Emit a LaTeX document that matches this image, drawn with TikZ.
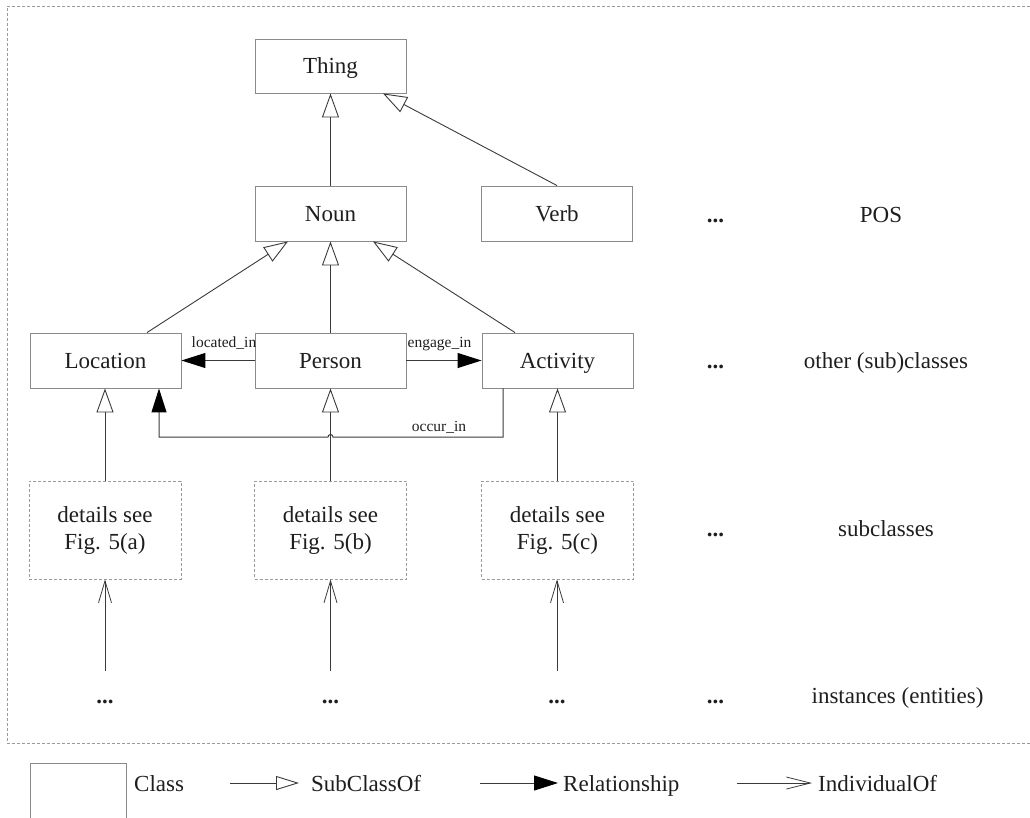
\documentclass[tikz,border=0pt]{standalone}
\usepackage{fontspec}
\setmainfont{Liberation Serif}
\usetikzlibrary{arrows.meta}

\definecolor{ink}{HTML}{1E1E1E}
\definecolor{edge}{HTML}{3A3A3A}
\definecolor{frame}{HTML}{8A8A8A}
\definecolor{dashgray}{HTML}{9A9A9A}

\tikzset{
  classbox/.style={draw=frame, line width=0.9pt, minimum width=151pt, minimum height=55pt,
    inner sep=0pt, text height=16pt, text depth=1pt,
    font=\fontsize{23}{27}\selectfont, text=ink},
  detailbox/.style={draw=dashgray, line width=0.8pt, dash pattern=on 3pt off 2pt,
    minimum width=152pt, minimum height=98pt, inner sep=0pt, align=center,
    font=\fontsize{23}{27}\selectfont, text=ink},
  subcls/.style={draw=edge, line width=0.9pt, -{Triangle[open, length=24pt, width=17pt]}},
  relation/.style={draw=edge, line width=1pt, -{Triangle[length=24pt, width=15pt, color=black]}},
  individual/.style={draw=edge, line width=0.9pt, -{Straight Barb[length=22pt, width=13pt, line width=0.8pt]}},
  rellabel/.style={font=\fontsize{15.5}{18}\selectfont, text=ink, anchor=base, inner sep=0pt},
  sidetext/.style={font=\fontsize{23}{27}\selectfont, text=ink, anchor=base, inner sep=0pt},
  ellip/.style={font=\fontsize{23}{27}\selectfont\bfseries, text=ink, anchor=base, inner sep=0pt},
}

\begin{document}
\begin{tikzpicture}[x=1pt, y=-1pt]
\useasboundingbox (0,0) rectangle (1030,817);

% outer dashed frame (open on the right)
\draw[dashgray, line width=0.8pt, dash pattern=on 3pt off 2pt]
  (1040,6) -- (7,6) -- (7,743) -- (1040,743);

% class hierarchy
\node[classbox, minimum height=54pt] (thing) at (330.5,66) {Thing};
\node[classbox] (noun) at (330.5,213.5) {Noun};
\node[classbox] (verb) at (557,213.5) {Verb};
\node[classbox] (location) at (105.5,360.5) {Location};
\node[classbox] (person) at (330.5,360.5) {Person};
\node[classbox] (activity) at (557.5,360.5) {Activity};

% subclass boxes
\node[detailbox] (suba) at (105,530) {details see\\Fig. 5(a)};
\node[detailbox] (subb) at (330.5,530) {details see\\Fig. 5(b)};
\node[detailbox] (subc) at (557.5,530) {details see\\Fig. 5(c)};

% instances
\node[ellip] (insta) at (105,703) {...};
\node[ellip] (instb) at (330.5,703) {...};
\node[ellip] (instc) at (557,703) {...};

% right column
\node[ellip] (dpos) at (715.5,222) {...};
\node[ellip] (dother) at (715.5,368) {...};
\node[ellip] (dsub) at (715.5,536) {...};
\node[ellip] (dinst) at (715.5,703) {...};
\node[sidetext] (lpos) at (881,222) {POS};
\node[sidetext] (lother) at (886,368) {other (sub)classes};
\node[sidetext] (lsub) at (886,536) {subclasses};
\node[sidetext] (linst) at (897.5,703) {instances (entities)};

% SubClassOf edges
\draw[subcls] (noun.north) -- (thing.south);
\draw[subcls] (verb.north) -- ([xshift=52.5pt]thing.south);
\draw[subcls] ([xshift=41.5pt]location.north) -- ([xshift=-42.5pt]noun.south);
\draw[subcls] (person.north) -- (noun.south);
\draw[subcls] ([xshift=-42.5pt]activity.north) -- ([xshift=42.5pt]noun.south);
\draw[subcls] (suba.north) -- (location.south -| suba.north);
\draw[subcls] (subb.north) -- (person.south);
\draw[subcls] (subc.north) -- (activity.south);

% IndividualOf edges
\draw[individual] ([yshift=32pt]insta.base) -- (suba.south);
\draw[individual] ([yshift=32pt]instb.base) -- (subb.south);
\draw[individual] ([yshift=32pt]instc.base) -- (subc.south -| instc.base);

% relationships
\draw[relation] (person.west) -- (location.east);
\node[rellabel] (llocated) at (224,347) {located\_in};
\draw[relation] (person.east) -- (activity.east -| activity.west);
\node[rellabel] (lengage) at (439.5,347) {engage\_in};

\coordinate (occstart) at ([xshift=-54.5pt]activity.south);
\coordinate (occend) at ([xshift=53.5pt]location.south);
\coordinate (occa) at (occstart |- 0,437);
\coordinate (occb) at (occend |- 0,437);
\draw[relation] (occstart) -- (occa) -- (333,437) arc[start angle=0, end angle=-180, radius=2.5] -- (occb) -- (occend);
\node[rellabel] (loccur) at (439,431) {occur\_in};

% legend
\draw[frame, line width=0.9pt] (30,830) -- (30,763) -- (126,763) -- (126,830);
\node[sidetext, anchor=base west] (lclass) at (134,791) {Class};
\coordinate (subfrom) at (230,783);
\coordinate (subto) at (299,783);
\draw[subcls, -{Triangle[open, length=23pt, width=14pt]}] (subfrom) -- (subto);
\node[sidetext, anchor=base west] (lsubcls) at (311,791) {SubClassOf};
\coordinate (relfrom) at (480,783);
\coordinate (relto) at (558,783);
\draw[relation] (relfrom) -- (relto);
\node[sidetext, anchor=base west] (lrel) at (563,791) {Relationship};
\coordinate (indfrom) at (737,783);
\coordinate (indto) at (812,783);
\draw[individual, -{Straight Barb[length=24pt, width=12pt, line width=0.8pt]}] (indfrom) -- (indto);
\node[sidetext, anchor=base west] (lind) at (818,791) {IndividualOf};
\end{tikzpicture}
\end{document}
